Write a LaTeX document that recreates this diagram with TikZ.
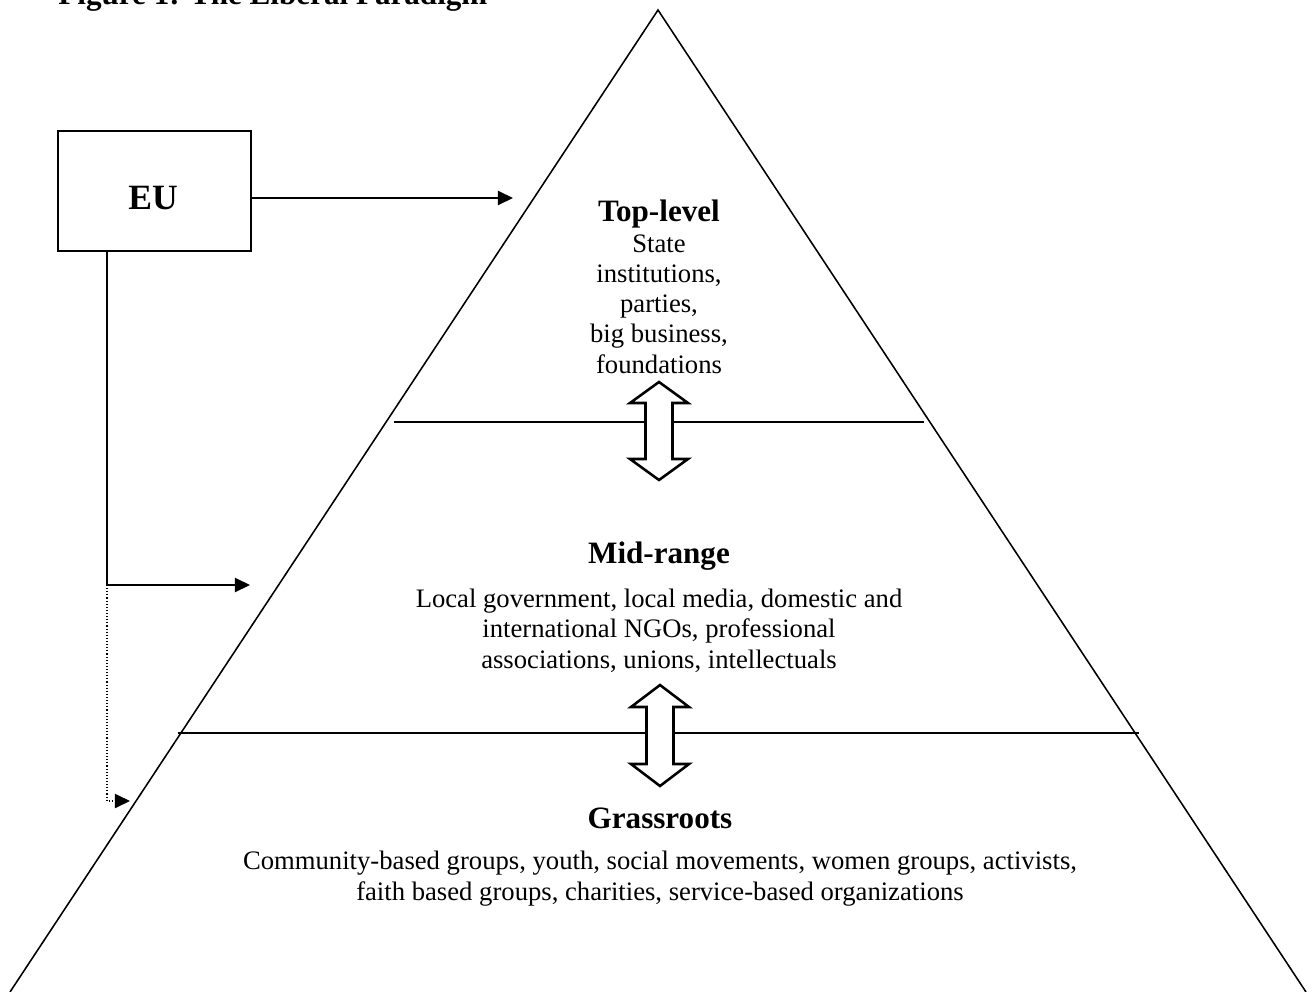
\documentclass[tikz,border=0pt]{standalone}
\usepackage{fontspec}
\setmainfont{Liberation Serif}
\usetikzlibrary{arrows.meta}
\newcommand\dblarrow[4]{% x, ytop, ybot, head length
  \draw[blockarrow] (#1,#2) -- ++(29,#4) -- ++(-15.5,0) -- (#1+13.5,#3-#4) -- ++(15.5,0)
    -- (#1,#3) -- ++(-29,-#4) -- ++(15.5,0) -- (#1-13.5,#2+#4) -- ++(-15.5,0) -- cycle;}
\begin{document}
\begin{tikzpicture}[x=0.45pt,y=-0.45pt,
  thinline/.style={line width=0.7pt},
  conn/.style={line width=0.7pt,-{Triangle[length=6.8pt,width=6.4pt]}},
  dotconn/.style={line width=0.6pt,dash pattern=on 0.5pt off 0.9pt,-{Triangle[length=6.8pt,width=6.4pt]}},
  blockarrow/.style={line width=1.15pt,fill=white,line join=miter},
  head/.style={font=\bfseries\fontsize{14}{16}\selectfont,inner sep=0pt,anchor=base},
  body/.style={font=\fontsize{12}{13.6}\selectfont,align=center,inner sep=0pt,anchor=base},
  eubox/.style={draw,line width=0.6pt,minimum width=193*0.45pt,minimum height=120*0.45pt,inner sep=0pt}]
\useasboundingbox (0,0) rectangle (1314,992);
% title (cut by the top edge)
\node[anchor=base west,inner sep=0pt,font=\bfseries\fontsize{14}{16}\selectfont] (title) at (58,4) {Figure 1: The Liberal Paradigm};
% pyramid
\coordinate (apex) at (658,10);
\coordinate (bl) at (10,992);
\coordinate (br) at (1306,992);
\draw[thinline] (bl) -- (apex) -- (br);
\coordinate (l1a) at (394,422); \coordinate (l1b) at (924,422);
\coordinate (l2a) at (178,733); \coordinate (l2b) at (1139,733);
\draw[thinline] (l1a) -- (l1b);
\draw[thinline] (l2a) -- (l2b);
% block double arrows
\dblarrow{659}{382}{480}{21}
\dblarrow{660}{685}{786}{22}
% texts (body nodes: base = baseline of last line)
\node[head] (toph) at (659,221) {Top-level};
\node[body] (topb) at (659,373) {State\\institutions,\\parties,\\big business,\\foundations};
\node[head] (midh) at (659,563) {Mid-range};
\node[body] (midb) at (659,668) {Local government, local media, domestic and\\international NGOs, professional\\associations, unions, intellectuals};
\node[head] (grah) at (660,828) {Grassroots};
\node[body] (grab) at (660,900) {Community-based groups, youth, social movements, women groups, activists,\\faith based groups, charities, service-based organizations};
% EU box
\node[eubox] (eu) at (154.5,191) {};
\node[inner sep=0pt,font=\bfseries\fontsize{16}{18}\selectfont] (eut) at (153,198) {EU};
\coordinate (toptip) at (513,198);
\coordinate (eudrop) at (107,251);
\coordinate (midtip) at (250,585);
\coordinate (bend) at (107,585);
\coordinate (grtip) at (130,801);
\draw[conn] (toptip -| eu.east) -- (toptip);
\draw[thinline] (eudrop) -- (bend);
\draw[conn] (bend) -- (midtip);
\draw[dotconn] (bend) |- (grtip);
\end{tikzpicture}
\end{document}
